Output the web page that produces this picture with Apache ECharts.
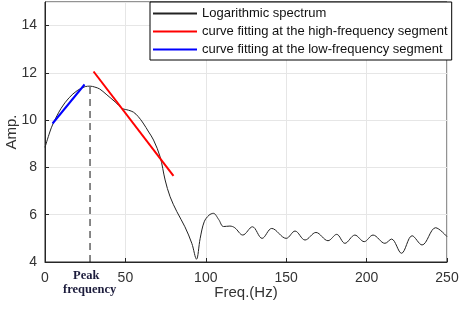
<!DOCTYPE html>
<html>
<head>
<meta charset="utf-8">
<script src="https://cdn.jsdelivr.net/npm/echarts@6/dist/echarts.min.js"></script>
<style>
  html, body {margin: 0; padding: 0; background: #fff;}
  #chart {width: 464px; height: 310px;}
</style>
</head>
<body>
<div id="chart"></div>
<script>
// logarithmic spectrum (Hz, Amp.)
const specFreq = [0, 3, 5, 10, 15, 20, 25, 28, 31, 34, 38, 44, 48, 52, 55, 58, 61, 64.5, 67.5, 71.6, 74.7, 77.8, 82, 87, 91.3, 94.2, 96.5, 99, 102, 104.7, 108, 111, 115, 118, 123, 129, 135, 141, 150, 155.5, 161.7, 168.5, 176, 181.4, 186.5, 192.7, 198.5, 204, 211.4, 215.5, 221.7, 228.3, 234.5, 242.9, 250];
const specAmp = [8.85, 9.5, 9.85, 10.5, 10.95, 11.25, 11.42, 11.44, 11.4, 11.32, 11.1, 10.75, 10.5, 10.42, 10.34, 10.15, 9.88, 9.5, 9.16, 8.45, 7.47, 6.76, 6.13, 5.49, 4.79, 4.12, 5.0, 5.7, 5.98, 6.06, 5.8, 5.5, 5.52, 5.45, 5.14, 5.49, 5.0, 5.42, 5.0, 5.31, 4.93, 5.25, 4.9, 5.17, 4.79, 5.14, 4.86, 5.14, 4.79, 4.97, 4.37, 5.11, 4.72, 5.45, 5.07];
const highFitFreq = [30.2, 79.9];
const highFitAmp = [12.06, 7.64];
const lowFitFreq = [4.7, 24.6];
const lowFitAmp = [9.86, 11.51];
const peakFreq = 28;
const peakAmp = 11.44;
const xTicks = [0, 250, 50];
const yTicks = [4, 15, 2];

const pairs = (xs, ys) => xs.map((x, i) => [x, ys[i]]);

const chart = echarts.init(document.getElementById('chart'));
const axisFont = {fontFamily: 'Liberation Sans, Arial', fontSize: 14, color: '#333'};

chart.setOption({
  animation: false,
  grid: {
    left: 45, right: 17, top: 2, bottom: 48, outerBoundsMode: 'none',
    show: true, borderColor: '#262626', borderWidth: 1
  },
  legend: {
    data: ['Logarithmic spectrum', 'curve fitting at the high-frequency segment', 'curve fitting at the low-frequency segment'],
    orient: 'vertical',
    left: 150, top: 2,
    padding: [5, 4, 4, 2],
    itemGap: 5,
    itemWidth: 44, itemHeight: 13,
    backgroundColor: '#fff',
    borderColor: '#000', borderWidth: 1,
    itemStyle: {opacity: 0},
    textStyle: {fontFamily: 'Liberation Sans, Arial', fontSize: 13, color: '#111'}
  },
  xAxis: {
    type: 'value', min: xTicks[0], max: xTicks[1], interval: xTicks[2],
    name: 'Freq.(Hz)', nameLocation: 'middle', nameGap: 23, nameMoveOverlap: false,
    nameTextStyle: {fontFamily: 'Liberation Sans, Arial', fontSize: 15, color: '#333', verticalAlign: 'top'},
    axisLine: {lineStyle: {color: '#262626'}},
    axisTick: {inside: true, length: 4, lineStyle: {color: '#262626'}},
    axisLabel: {...axisFont, margin: 9},
    splitLine: {lineStyle: {color: '#e6e6e6'}}
  },
  yAxis: {
    type: 'value', min: yTicks[0], max: yTicks[1], interval: yTicks[2],
    name: 'Amp.', nameLocation: 'middle', nameGap: 26, nameMoveOverlap: false,
    nameTextStyle: {fontFamily: 'Liberation Sans, Arial', fontSize: 15, color: '#333'},
    axisLine: {lineStyle: {color: '#262626'}},
    axisTick: {inside: true, length: 4, lineStyle: {color: '#262626'}},
    axisLabel: {...axisFont, margin: 8, showMaxLabel: false},
    splitLine: {lineStyle: {color: '#e6e6e6'}}
  },
  series: [
    {
      name: 'Logarithmic spectrum', type: 'line', symbol: 'none', smooth: 0.35,
      data: pairs(specFreq, specAmp),
      lineStyle: {color: '#222', width: 1}, itemStyle: {color: '#222'}
    },
    {
      name: 'curve fitting at the high-frequency segment', type: 'line', symbol: 'none',
      data: pairs(highFitFreq, highFitAmp),
      lineStyle: {color: '#ff0000', width: 2}, itemStyle: {color: '#ff0000'}
    },
    {
      name: 'curve fitting at the low-frequency segment', type: 'line', symbol: 'none',
      data: pairs(lowFitFreq, lowFitAmp),
      lineStyle: {color: '#0000ff', width: 2}, itemStyle: {color: '#0000ff'}
    },
    {
      name: 'peak', type: 'line', symbol: 'none',
      data: [[peakFreq, yTicks[0]], [peakFreq, peakAmp]],
      lineStyle: {color: '#111', width: 1, type: [7, 5]}
    }
  ],
  graphic: [
    {
      type: 'text', left: 73, top: 269,
      style: {text: 'Peak', fontFamily: 'Liberation Serif, Times New Roman', fontWeight: 'bold', fontSize: 12.5, fill: '#1c1c3c'}
    },
    {
      type: 'text', left: 63, top: 283,
      style: {text: 'frequency', fontFamily: 'Liberation Serif, Times New Roman', fontWeight: 'bold', fontSize: 12.5, fill: '#1c1c3c'}
    }
  ]
});
</script>
</body>
</html>
